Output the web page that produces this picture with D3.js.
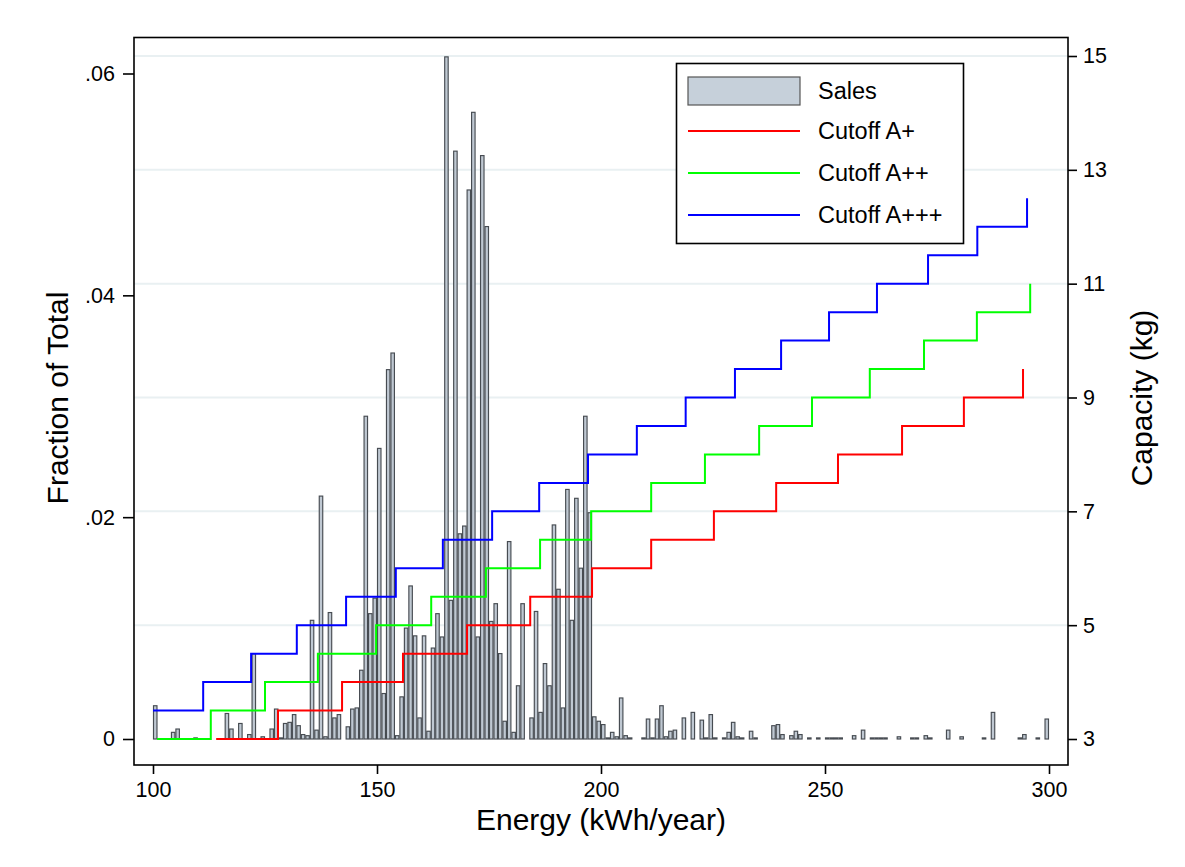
<!DOCTYPE html>
<html>
<head>
<meta charset="utf-8">
<script src="https://cdn.jsdelivr.net/npm/d3@7"></script>
<style>
  html, body { margin: 0; padding: 0; background: #fff; }
  svg { display: block; font-family: "Liberation Sans", Arial, sans-serif; }
</style>
</head>
<body>
<svg id="chart" width="1185" height="867"></svg>
<script>
// ---------------- data ----------------
const binStart = [100,104,105,109,116,117,119,121,122,124,126,127,128,129,130,131,132,133,134,135,136,137,138,139,140,141,143,144,145,146,147,148,149,
  150,151,152,153,154,155,156,157,158,159,160,161,162,163,164,165,166,167,168,169,170,171,172,173,174,175,176,177,178,179,180,181,182,184,185,186,187,188,189,190,191,192,193,194,195,196,197,198,199,
  200,201,202,203,204,205,206,209,210,211,212,213,214,215,216,218,220,222,223,224,225,227,228,229,230,231,233,234,238,239,240,242,243,244,246,248,
  250,251,252,253,256,258,260,261,262,263,266,269,270,272,273,277,280,285,287,293,294,297,299];
const salesFraction = [0.0030,0.0006,0.0009,0.0001,0.0023,0.0009,0.0014,0.0004,0.0077,0.0002,0.0009,0.0027,0.0001,0.0014,0.0015,0.0022,0.0012,0.0004,0.0003,0.0107,0.0008,0.0219,0.0002,0.0114,0.0019,0.0022,0.0011,0.0027,0.0028,0.0062,0.0291,0.0113,0.0127,
  0.0262,0.0041,0.0333,0.0348,0.0003,0.0038,0.0100,0.0138,0.0093,0.0019,0.0093,0.0007,0.0082,0.0113,0.0092,0.0615,0.0125,0.0530,0.0185,0.0192,0.0495,0.0565,0.0092,0.0526,0.0462,0.0106,0.0122,0.0077,0.0016,0.0178,0.0006,0.0048,0.0122,0.0019,0.0115,0.0024,0.0068,0.0048,0.0193,0.0135,0.0028,0.0225,0.0107,0.0217,0.0154,0.0291,0.0204,0.0020,0.0016,
  0.0013,0.0001,0.0006,0.0002,0.0037,0.0003,0.0001,0.0001,0.0018,0.0001,0.0018,0.0030,0.0002,0.0007,0.0008,0.0019,0.0024,0.0017,0.0001,0.0022,0.0001,0.0001,0.0006,0.0015,0.0002,0.0001,0.0007,0.0001,0.0012,0.0013,0.0004,0.0003,0.0007,0.0004,0.0001,0.0001,
  0.0001,0.0001,0.0001,0.0001,0.0003,0.0008,0.0001,0.0001,0.0001,0.0001,0.0002,0.0001,0.0001,0.0003,0.0001,0.0008,0.0002,0.0001,0.0024,0.0001,0.0004,0.0001,0.0018];
const binWidth = 1;

const cutoffAPlusEnergy   = [114.1,127.9,142.2,155.8,170.1,184.2,198.0,211.2,225.2,239.1,252.9,267.2,281.0,294.2];
const cutoffAPlusCap      = [3,3.5,4,4.5,5,5.5,6,6.5,7,7.5,8,8.5,9,9.5];
const cutoffA2PlusEnergy  = [100.9,112.9,125.0,136.8,149.8,162.1,174.3,186.4,197.8,211.2,223.2,235.3,247.1,260.0,272.1,283.9,295.8];
const cutoffA2PlusCap     = [3,3.5,4,4.5,5,5.5,6,6.5,7,7.5,8,8.5,9,9.5,10,10.5,11];
const cutoffA3PlusEnergy  = [100.0,111.2,121.9,132.1,143.1,154.2,164.7,175.7,186.2,197.1,208.0,218.9,229.9,240.2,250.9,261.6,273.0,284.0,295.1];
const cutoffA3PlusCap     = [3.5,4,4.5,5,5.5,6,6.5,7,7.5,8,8.5,9,9.5,10,10.5,11,11.5,12,12.5];

const xTicks = [100,150,200,250,300];
const leftTicks = [0,0.02,0.04,0.06];
const leftTickLabels = ["0",".02",".04",".06"];
const rightTicks = [3,5,7,9,11,13,15];

const legendItems = ["Sales","Cutoff A+","Cutoff A++","Cutoff A+++"];

// ---------------- layout ----------------
const svg = d3.select("#chart");
const P = {left:134, right:1068, top:37.5, bottom:765};

const x = d3.scaleLinear().domain([100,300]).range([153,1049]);
const yL = d3.scaleLinear().domain([0,0.06]).range([739,73.5]);
const yR = d3.scaleLinear().domain([3,15]).range([739,56]);

// gridlines (right-axis ticks)
svg.append("g").selectAll("line").data(rightTicks.filter(d=>d>3)).join("line")
  .attr("x1",P.left).attr("x2",P.right)
  .attr("y1",d=>yR(d)).attr("y2",d=>yR(d))
  .attr("stroke","#e9f0f2").attr("stroke-width",2);

// bars
const bars = binStart.map((b,i)=>({b, v:salesFraction[i]}));
svg.append("g").selectAll("rect").data(bars).join("rect")
  .attr("x",d=>x(d.b)+0.5)
  .attr("width",d=>x(d.b+binWidth)-x(d.b)-1)
  .attr("y",d=>yL(d.v))
  .attr("height",d=>Math.max(0.5,yL(0)-yL(d.v)))
  .attr("fill","#bfc8d2")
  .attr("stroke","#474c52")
  .attr("stroke-width",1.15);

// step lines
const stepLine = d3.line().x(d=>x(d[0])).y(d=>yR(d[1])).curve(d3.curveStepAfter);
const series = [
  {e:cutoffAPlusEnergy, c:cutoffAPlusCap, color:"#ff0000"},
  {e:cutoffA2PlusEnergy, c:cutoffA2PlusCap, color:"#00ff00"},
  {e:cutoffA3PlusEnergy, c:cutoffA3PlusCap, color:"#0000ff"}
];
series.forEach(s=>{
  svg.append("path")
    .datum(s.e.map((e,i)=>[e,s.c[i]]))
    .attr("d",stepLine)
    .attr("fill","none")
    .attr("stroke",s.color)
    .attr("stroke-width",2);
});

// plot border
svg.append("rect")
  .attr("x",P.left).attr("y",P.top)
  .attr("width",P.right-P.left).attr("height",P.bottom-P.top)
  .attr("fill","none").attr("stroke","#000").attr("stroke-width",1.6);

// axes
const fontTick = 21.5;
const axL = svg.append("g").attr("transform",`translate(${P.left},0)`)
  .call(d3.axisLeft(yL).tickValues(leftTicks).tickFormat((d,i)=>leftTickLabels[i]).tickSize(11).tickPadding(8));
const axR = svg.append("g").attr("transform",`translate(${P.right},0)`)
  .call(d3.axisRight(yR).tickValues(rightTicks).tickFormat(d3.format("d")).tickSize(9).tickPadding(6));
const axB = svg.append("g").attr("transform",`translate(0,${P.bottom})`)
  .call(d3.axisBottom(x).tickValues(xTicks).tickFormat(d3.format("d")).tickSize(9).tickPadding(8));
[axL,axR,axB].forEach(a=>{
  a.select(".domain").remove();
  a.selectAll(".tick line").attr("stroke","#000").attr("stroke-width",1.6);
  a.selectAll(".tick text").attr("font-size",fontTick).attr("fill","#000")
    .attr("font-family","'Liberation Sans', Arial, sans-serif");
});

// axis titles
svg.append("text").attr("x",601).attr("y",830).attr("text-anchor","middle")
  .attr("font-size",30).attr("fill","#000").text("Energy (kWh/year)");
svg.append("text").attr("transform","translate(68,398) rotate(-90)").attr("text-anchor","middle")
  .attr("font-size",30).attr("fill","#000").text("Fraction of Total");
svg.append("text").attr("transform","translate(1152,398) rotate(-90)").attr("text-anchor","middle")
  .attr("font-size",30).attr("fill","#000").text("Capacity (kg)");

// legend
const lg = svg.append("g");
lg.append("rect").attr("x",676.5).attr("y",63.5).attr("width",287).attr("height",180)
  .attr("fill","#fff").attr("stroke","#000").attr("stroke-width",1.6);
const rowY = [91,131,173,215];
lg.append("rect").attr("x",688).attr("y",77).attr("width",112).attr("height",28)
  .attr("fill","#c6d0da").attr("stroke","#555").attr("stroke-width",1.2);
series.forEach((s,i)=>{
  lg.append("line").attr("x1",688).attr("x2",800).attr("y1",rowY[i+1]).attr("y2",rowY[i+1])
    .attr("stroke",s.color).attr("stroke-width",2);
});
lg.selectAll("text.lt").data(legendItems).join("text").attr("class","lt")
  .attr("x",818).attr("y",(d,i)=>rowY[i]+8).attr("font-size",23.5).attr("fill","#000").text(d=>d);
</script>
</body>
</html>
